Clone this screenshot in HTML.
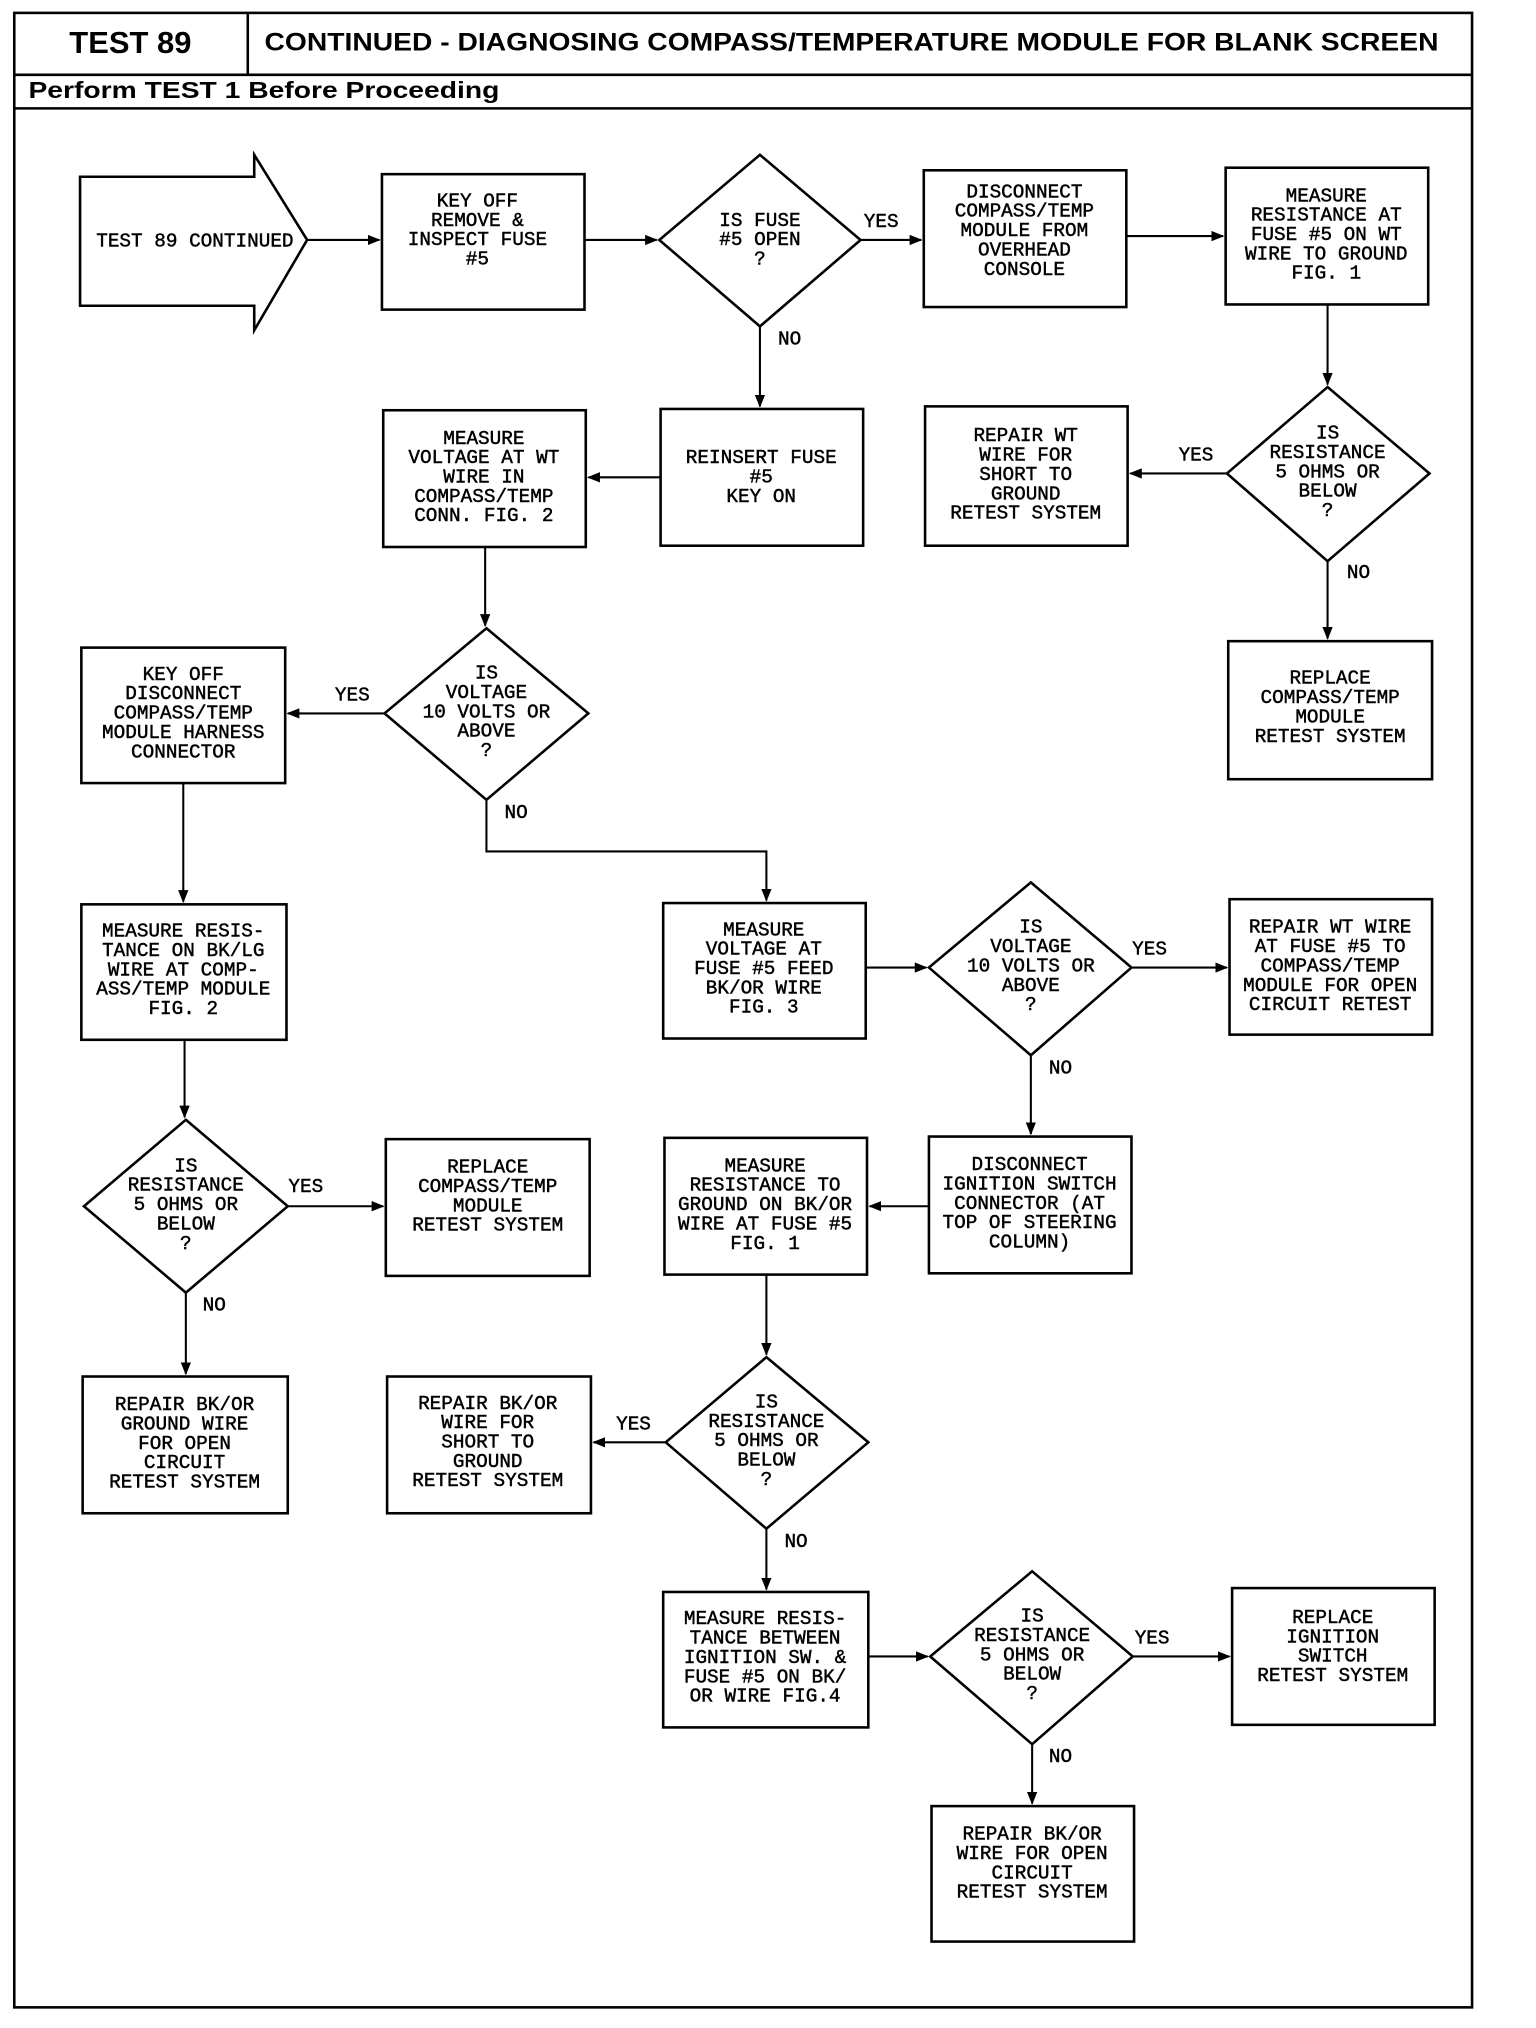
<!DOCTYPE html>
<html><head><meta charset="utf-8"><style>
html,body{margin:0;padding:0;background:#fff}
svg{display:block}
.t{font-family:"Liberation Mono",monospace;font-size:15px;fill:#000;stroke:#000;stroke-width:0.35;text-anchor:middle}
.s{fill:none;stroke:#000;stroke-width:2}
.l{fill:none;stroke:#000;stroke-width:1.6}
</style></head><body>
<svg width="1536" height="2028" viewBox="0 0 1190.5 1572" xmlns="http://www.w3.org/2000/svg">
<defs><marker id="a" markerWidth="10" markerHeight="8" refX="9" refY="4" orient="auto" markerUnits="userSpaceOnUse"><path d="M0,0 L10,4 L0,8 Z" fill="#000"/></marker></defs>
<rect class="s" x="11" y="10" width="1130" height="1546"/>
<line class="s" x1="192" y1="10" x2="192" y2="58"/>
<line class="s" x1="11" y1="58" x2="1141" y2="58"/>
<line class="s" x1="11" y1="84" x2="1141" y2="84"/>
<text x="101" y="41" font-family="Liberation Sans,sans-serif" font-weight="bold" font-size="24" text-anchor="middle">TEST 89</text>
<text x="205" y="39" font-family="Liberation Sans,sans-serif" font-weight="bold" font-size="19" textLength="910" lengthAdjust="spacingAndGlyphs">CONTINUED - DIAGNOSING COMPASS/TEMPERATURE MODULE FOR BLANK SCREEN</text>
<text x="22" y="76" font-family="Liberation Sans,sans-serif" font-weight="bold" font-size="18" textLength="365" lengthAdjust="spacingAndGlyphs">Perform TEST 1 Before Proceeding</text>

<!-- shapes -->
<path class="s" d="M62,137 L197,137 L197,120 L238,186 L197,256 L197,237 L62,237 Z"/>
<rect class="s" x="296" y="135" width="157" height="105"/>
<path class="s" d="M589,120 L667,186 L589,253 L511,186 Z"/>
<rect class="s" x="716" y="132" width="157" height="106"/>
<rect class="s" x="950" y="130" width="157" height="106"/>
<path class="s" d="M1029,300 L1108,367 L1029,435 L951,367 Z"/>
<rect class="s" x="717" y="315" width="157" height="108"/>
<rect class="s" x="952" y="497" width="158" height="107"/>
<rect class="s" x="512" y="317" width="157" height="106"/>
<rect class="s" x="297" y="318" width="157" height="106"/>
<path class="s" d="M377,487 L456,553 L377,620 L298,553 Z"/>
<rect class="s" x="63" y="502" width="158" height="105"/>
<rect class="s" x="63" y="701" width="159" height="105"/>
<rect class="s" x="514" y="700" width="157" height="105"/>
<path class="s" d="M799,684 L877,750 L799,818 L720,750 Z"/>
<rect class="s" x="953" y="697" width="157" height="105"/>
<rect class="s" x="720" y="881" width="157" height="106"/>
<rect class="s" x="515" y="882" width="157" height="106"/>
<path class="s" d="M594,1052 L673,1118 L594,1185 L516,1118 Z"/>
<rect class="s" x="300" y="1067" width="158" height="106"/>
<rect class="s" x="514" y="1234" width="159" height="105"/>
<path class="s" d="M800,1218 L878,1284 L800,1352 L721,1284 Z"/>
<rect class="s" x="955" y="1231" width="157" height="106"/>
<rect class="s" x="722" y="1400" width="157" height="105"/>
<path class="s" d="M144,868 L223,935 L144,1002 L65,935 Z"/>
<rect class="s" x="299" y="883" width="158" height="106"/>
<rect class="s" x="64" y="1067" width="159" height="106"/>

<!-- connectors -->
<line class="l" x1="238" y1="186" x2="294" y2="186" marker-end="url(#a)"/>
<line class="l" x1="453" y1="186" x2="509" y2="186" marker-end="url(#a)"/>
<line class="l" x1="667" y1="186" x2="714" y2="186" marker-end="url(#a)"/>
<line class="l" x1="873" y1="183" x2="948" y2="183" marker-end="url(#a)"/>
<line class="l" x1="1029" y1="236" x2="1029" y2="298" marker-end="url(#a)"/>
<line class="l" x1="951" y1="367" x2="876" y2="367" marker-end="url(#a)"/>
<line class="l" x1="1029" y1="435" x2="1029" y2="495" marker-end="url(#a)"/>
<line class="l" x1="589" y1="253" x2="589" y2="315" marker-end="url(#a)"/>
<line class="l" x1="512" y1="370" x2="456" y2="370" marker-end="url(#a)"/>
<line class="l" x1="376" y1="424" x2="376" y2="485" marker-end="url(#a)"/>
<line class="l" x1="298" y1="553" x2="223" y2="553" marker-end="url(#a)"/>
<polyline class="l" points="377,620 377,660 594,660 594,698" marker-end="url(#a)"/>
<line class="l" x1="142" y1="607" x2="142" y2="699" marker-end="url(#a)"/>
<line class="l" x1="671" y1="750" x2="718" y2="750" marker-end="url(#a)"/>
<line class="l" x1="877" y1="750" x2="951" y2="750" marker-end="url(#a)"/>
<line class="l" x1="799" y1="818" x2="799" y2="879" marker-end="url(#a)"/>
<line class="l" x1="720" y1="935" x2="674" y2="935" marker-end="url(#a)"/>
<line class="l" x1="594" y1="988" x2="594" y2="1050" marker-end="url(#a)"/>
<line class="l" x1="516" y1="1118" x2="460" y2="1118" marker-end="url(#a)"/>
<line class="l" x1="594" y1="1185" x2="594" y2="1232" marker-end="url(#a)"/>
<line class="l" x1="673" y1="1284" x2="719" y2="1284" marker-end="url(#a)"/>
<line class="l" x1="878" y1="1284" x2="953" y2="1284" marker-end="url(#a)"/>
<line class="l" x1="800" y1="1352" x2="800" y2="1398" marker-end="url(#a)"/>
<line class="l" x1="143" y1="806" x2="143" y2="866" marker-end="url(#a)"/>
<line class="l" x1="223" y1="935" x2="297" y2="935" marker-end="url(#a)"/>
<line class="l" x1="144" y1="1002" x2="144" y2="1065" marker-end="url(#a)"/>

<!-- labels -->
<text class="t" x="683" y="176">YES</text>
<text class="t" x="612" y="267">NO</text>
<text class="t" x="927" y="357">YES</text>
<text class="t" x="1053" y="448">NO</text>
<text class="t" x="273" y="543">YES</text>
<text class="t" x="400" y="634">NO</text>
<text class="t" x="891" y="740">YES</text>
<text class="t" x="822" y="832">NO</text>
<text class="t" x="491" y="1108">YES</text>
<text class="t" x="617" y="1199">NO</text>
<text class="t" x="893" y="1274">YES</text>
<text class="t" x="822" y="1366">NO</text>
<text class="t" x="237" y="924">YES</text>
<text class="t" x="166" y="1016">NO</text>

<!-- node texts -->
<text class="t" x="151" y="191">TEST 89 CONTINUED</text>
<text class="t" y="160"><tspan x="370">KEY OFF</tspan><tspan x="370" dy="15">REMOVE &amp;</tspan><tspan x="370" dy="15">INSPECT FUSE</tspan><tspan x="370" dy="15">#5</tspan></text>
<text class="t" y="175"><tspan x="589">IS FUSE</tspan><tspan x="589" dy="15">#5 OPEN</tspan><tspan x="589" dy="15">?</tspan></text>
<text class="t" y="153"><tspan x="794">DISCONNECT</tspan><tspan x="794" dy="15">COMPASS/TEMP</tspan><tspan x="794" dy="15">MODULE FROM</tspan><tspan x="794" dy="15">OVERHEAD</tspan><tspan x="794" dy="15">CONSOLE</tspan></text>
<text class="t" y="156"><tspan x="1028">MEASURE</tspan><tspan x="1028" dy="15">RESISTANCE AT</tspan><tspan x="1028" dy="15">FUSE #5 ON WT</tspan><tspan x="1028" dy="15">WIRE TO GROUND</tspan><tspan x="1028" dy="15">FIG. 1</tspan></text>
<text class="t" y="340"><tspan x="1029">IS</tspan><tspan x="1029" dy="15">RESISTANCE</tspan><tspan x="1029" dy="15">5 OHMS OR</tspan><tspan x="1029" dy="15">BELOW</tspan><tspan x="1029" dy="15">?</tspan></text>
<text class="t" y="342"><tspan x="795">REPAIR WT</tspan><tspan x="795" dy="15">WIRE FOR</tspan><tspan x="795" dy="15">SHORT TO</tspan><tspan x="795" dy="15">GROUND</tspan><tspan x="795" dy="15">RETEST SYSTEM</tspan></text>
<text class="t" y="530"><tspan x="1031">REPLACE</tspan><tspan x="1031" dy="15">COMPASS/TEMP</tspan><tspan x="1031" dy="15">MODULE</tspan><tspan x="1031" dy="15">RETEST SYSTEM</tspan></text>
<text class="t" y="359"><tspan x="590">REINSERT FUSE</tspan><tspan x="590" dy="15">#5</tspan><tspan x="590" dy="15">KEY ON</tspan></text>
<text class="t" y="344"><tspan x="375">MEASURE</tspan><tspan x="375" dy="15">VOLTAGE AT WT</tspan><tspan x="375" dy="15">WIRE IN</tspan><tspan x="375" dy="15">COMPASS/TEMP</tspan><tspan x="375" dy="15">CONN. FIG. 2</tspan></text>
<text class="t" y="526"><tspan x="377">IS</tspan><tspan x="377" dy="15">VOLTAGE</tspan><tspan x="377" dy="15">10 VOLTS OR</tspan><tspan x="377" dy="15">ABOVE</tspan><tspan x="377" dy="15">?</tspan></text>
<text class="t" y="527"><tspan x="142">KEY OFF</tspan><tspan x="142" dy="15">DISCONNECT</tspan><tspan x="142" dy="15">COMPASS/TEMP</tspan><tspan x="142" dy="15">MODULE HARNESS</tspan><tspan x="142" dy="15">CONNECTOR</tspan></text>
<text class="t" y="726"><tspan x="142">MEASURE RESIS-</tspan><tspan x="142" dy="15">TANCE ON BK/LG</tspan><tspan x="142" dy="15">WIRE AT COMP-</tspan><tspan x="142" dy="15">ASS/TEMP MODULE</tspan><tspan x="142" dy="15">FIG. 2</tspan></text>
<text class="t" y="725"><tspan x="592">MEASURE</tspan><tspan x="592" dy="15">VOLTAGE AT</tspan><tspan x="592" dy="15">FUSE #5 FEED</tspan><tspan x="592" dy="15">BK/OR WIRE</tspan><tspan x="592" dy="15">FIG. 3</tspan></text>
<text class="t" y="723"><tspan x="799">IS</tspan><tspan x="799" dy="15">VOLTAGE</tspan><tspan x="799" dy="15">10 VOLTS OR</tspan><tspan x="799" dy="15">ABOVE</tspan><tspan x="799" dy="15">?</tspan></text>
<text class="t" y="723"><tspan x="1031">REPAIR WT WIRE</tspan><tspan x="1031" dy="15">AT FUSE #5 TO</tspan><tspan x="1031" dy="15">COMPASS/TEMP</tspan><tspan x="1031" dy="15">MODULE FOR OPEN</tspan><tspan x="1031" dy="15">CIRCUIT RETEST</tspan></text>
<text class="t" y="907"><tspan x="798">DISCONNECT</tspan><tspan x="798" dy="15">IGNITION SWITCH</tspan><tspan x="798" dy="15">CONNECTOR (AT</tspan><tspan x="798" dy="15">TOP OF STEERING</tspan><tspan x="798" dy="15">COLUMN)</tspan></text>
<text class="t" y="908"><tspan x="593">MEASURE</tspan><tspan x="593" dy="15">RESISTANCE TO</tspan><tspan x="593" dy="15">GROUND ON BK/OR</tspan><tspan x="593" dy="15">WIRE AT FUSE #5</tspan><tspan x="593" dy="15">FIG. 1</tspan></text>
<text class="t" y="1091"><tspan x="594">IS</tspan><tspan x="594" dy="15">RESISTANCE</tspan><tspan x="594" dy="15">5 OHMS OR</tspan><tspan x="594" dy="15">BELOW</tspan><tspan x="594" dy="15">?</tspan></text>
<text class="t" y="1092"><tspan x="378">REPAIR BK/OR</tspan><tspan x="378" dy="15">WIRE FOR</tspan><tspan x="378" dy="15">SHORT TO</tspan><tspan x="378" dy="15">GROUND</tspan><tspan x="378" dy="15">RETEST SYSTEM</tspan></text>
<text class="t" y="1259"><tspan x="593">MEASURE RESIS-</tspan><tspan x="593" dy="15">TANCE BETWEEN</tspan><tspan x="593" dy="15">IGNITION SW. &amp;</tspan><tspan x="593" dy="15">FUSE #5 ON BK/</tspan><tspan x="593" dy="15">OR WIRE FIG.4</tspan></text>
<text class="t" y="1257"><tspan x="800">IS</tspan><tspan x="800" dy="15">RESISTANCE</tspan><tspan x="800" dy="15">5 OHMS OR</tspan><tspan x="800" dy="15">BELOW</tspan><tspan x="800" dy="15">?</tspan></text>
<text class="t" y="1258"><tspan x="1033">REPLACE</tspan><tspan x="1033" dy="15">IGNITION</tspan><tspan x="1033" dy="15">SWITCH</tspan><tspan x="1033" dy="15">RETEST SYSTEM</tspan></text>
<text class="t" y="1426"><tspan x="800">REPAIR BK/OR</tspan><tspan x="800" dy="15">WIRE FOR OPEN</tspan><tspan x="800" dy="15">CIRCUIT</tspan><tspan x="800" dy="15">RETEST SYSTEM</tspan></text>
<text class="t" y="908"><tspan x="144">IS</tspan><tspan x="144" dy="15">RESISTANCE</tspan><tspan x="144" dy="15">5 OHMS OR</tspan><tspan x="144" dy="15">BELOW</tspan><tspan x="144" dy="15">?</tspan></text>
<text class="t" y="909"><tspan x="378">REPLACE</tspan><tspan x="378" dy="15">COMPASS/TEMP</tspan><tspan x="378" dy="15">MODULE</tspan><tspan x="378" dy="15">RETEST SYSTEM</tspan></text>
<text class="t" y="1093"><tspan x="143">REPAIR BK/OR</tspan><tspan x="143" dy="15">GROUND WIRE</tspan><tspan x="143" dy="15">FOR OPEN</tspan><tspan x="143" dy="15">CIRCUIT</tspan><tspan x="143" dy="15">RETEST SYSTEM</tspan></text>
</svg>
</body></html>
